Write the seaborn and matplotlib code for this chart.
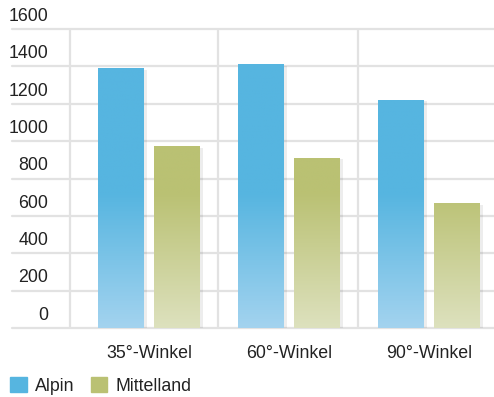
import numpy as np
import pandas as pd
import matplotlib
matplotlib.use("Agg")
import matplotlib.pyplot as plt
import matplotlib.patheffects as pe
import matplotlib.transforms as mtransforms
from matplotlib.colors import to_rgb
from matplotlib.patches import Rectangle
import seaborn as sns

# data
categories = ["35°-Winkel", "60°-Winkel", "90°-Winkel"]
alpin = [1390, 1412, 1220]
mittelland = [973, 910, 668]
series = ["Alpin", "Mittelland"]
y_ticks = [0, 200, 400, 600, 800, 1000, 1200, 1400, 1600]

top_colors = {"Alpin": "#56B5E0", "Mittelland": "#BAC173"}
bottom_colors = {"Alpin": "#A3D3EF", "Mittelland": "#DDE1BE"}

df = pd.DataFrame({
    "Winkel": categories * 2,
    "Serie": ["Alpin"] * 3 + ["Mittelland"] * 3,
    "Wert": alpin + mittelland,
})

sns.set_style("white")
plt.rcParams["font.family"] = ["Liberation Sans", "DejaVu Sans"]
FS = 12.8
TXT = "#222222"

W, H = 494, 397
fig = plt.figure(figsize=(W / 100, H / 100), dpi=100)
ax = fig.add_axes([12 / W, (H - 328) / H, (W - 12) / W, (328 - 29) / H])

sns.barplot(data=df, x="Winkel", y="Wert", hue="Serie", order=categories,
            hue_order=series, palette=top_colors, width=0.8, gap=0.18,
            saturation=1, legend=False, linewidth=0, ax=ax, zorder=3)

# grid
grid_c = "#E2E2E2"
for v in y_ticks:
    ax.axhline(v, color=grid_c, lw=1.6, zorder=1, clip_on=False)
for xv in [-0.564, 0.495, 1.49]:
    ax.axvline(xv, color=grid_c, lw=1.6, zorder=1)

# gradient fill clipped to each bar
fade_top = 720
ys = np.linspace(0, 1600, 400)
frac = np.clip(ys / fade_top, 0, 1)[:, None]
for patch, name in zip(ax.patches, ["Alpin"] * 3 + ["Mittelland"] * 3):
    patch.set_path_effects([pe.SimplePatchShadow(offset=(2, -1), shadow_rgbFace="#000000", alpha=0.07),
                            pe.Normal()])
    c0 = np.array(to_rgb(bottom_colors[name]))
    c1 = np.array(to_rgb(top_colors[name]))
    img = (c0 + (c1 - c0) * frac)[:, None, :]
    x0 = patch.get_x()
    w = patch.get_width()
    im = ax.imshow(img, extent=[x0, x0 + w, 0, 1600], origin="lower",
                   aspect="auto", zorder=4, interpolation="bilinear")
    im.set_clip_path(patch)

ax.set_xlim(-0.979, 2.464)
ax.set_ylim(0, 1600)

# y labels sit above their grid lines
lab_trans = mtransforms.offset_copy(ax.transData, fig=fig, x=0, y=3, units="points")
for v in y_ticks:
    ax.text(-0.72, v, str(v), ha="right", va="bottom", fontsize=FS,
            color=TXT, transform=lab_trans)

ax.set_yticks([])
ax.set_xlabel("")
ax.set_ylabel("")
ax.tick_params(axis="x", length=0, pad=12, labelsize=FS, labelcolor=TXT)
for s in ax.spines.values():
    s.set_visible(False)

# legend
handles = [Rectangle((0, 0), 1, 1, color=top_colors[s]) for s in series]
fig.legend(handles, series, loc="center left", bbox_to_anchor=(3 / W, 11 / H),
           ncol=2, frameon=False, fontsize=FS, handlelength=0.95, handleheight=0.95,
           handletextpad=0.45, columnspacing=0.9, labelcolor=TXT, borderaxespad=0)

fig.savefig("out.png", dpi=100)
